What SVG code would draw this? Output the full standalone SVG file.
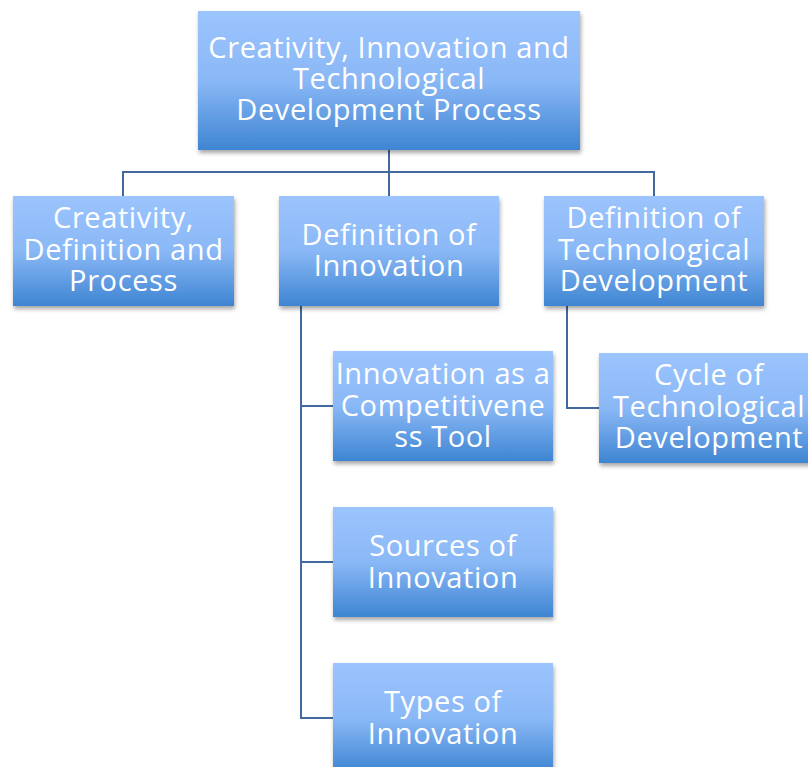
<svg xmlns="http://www.w3.org/2000/svg" width="808" height="767" viewBox="0 0 808 767">
<defs>
<linearGradient id="g" x1="0" y1="0" x2="0" y2="1">
<stop offset="0" stop-color="#9CC4FE"/>
<stop offset="0.5" stop-color="#8AB8F6"/>
<stop offset="1" stop-color="#3E85D2"/>
</linearGradient>
<filter id="sh" x="-10%" y="-10%" width="120%" height="130%">
<feDropShadow dx="1" dy="3" stdDeviation="2" flood-color="#000" flood-opacity="0.35"/>
</filter>
</defs>
<style>
.box{fill:url(#g);filter:url(#sh);}
.t{font-family:"Open Sans","Noto Sans",sans-serif;font-size:29px;letter-spacing:0.6px;fill:#fff;text-anchor:middle;}
.c{fill:none;stroke:#41699E;stroke-width:2;}
</style>
<rect width="808" height="767" fill="#fff"/>
<g id="connectors">
<path class="c" d="M389 150V172M123 196V172H654V196M389 172V196"/>
<path class="c" d="M301 306V718H333M301 406H333M301 562H333"/>
<path class="c" d="M567 306V408H599"/>
</g>
<g id="root">
<rect class="box" x="198" y="11" width="382" height="139"/>
<text class="t"><tspan x="389" y="58">Creativity, Innovation and</tspan><tspan x="389" y="89">Technological</tspan><tspan x="389" y="120">Development Process</tspan></text>
</g>
<g id="creativity">
<rect class="box" x="13" y="196" width="221" height="110"/>
<text class="t"><tspan x="123.5" y="228">Creativity,</tspan><tspan x="123.5" y="260">Definition and</tspan><tspan x="123.5" y="291">Process</tspan></text>
</g>
<g id="innovation">
<rect class="box" x="279" y="196" width="220" height="110"/>
<text class="t"><tspan x="389" y="245">Definition of</tspan><tspan x="389" y="276">Innovation</tspan></text>
</g>
<g id="techdev">
<rect class="box" x="544" y="196" width="220" height="110"/>
<text class="t"><tspan x="654" y="228">Definition of</tspan><tspan x="654" y="260">Technological</tspan><tspan x="654" y="291">Development</tspan></text>
</g>
<g id="cycle">
<rect class="box" x="599" y="353" width="220" height="110"/>
<text class="t"><tspan x="709" y="385">Cycle of</tspan><tspan x="709" y="417">Technological</tspan><tspan x="709" y="448">Development</tspan></text>
</g>
<g id="competitiveness">
<rect class="box" x="333" y="351" width="220" height="110"/>
<text class="t"><tspan x="443" y="384">Innovation as a</tspan><tspan x="443" y="416">Competitivene</tspan><tspan x="443" y="447">ss Tool</tspan></text>
</g>
<g id="sources">
<rect class="box" x="333" y="507" width="220" height="110"/>
<text class="t"><tspan x="443" y="556">Sources of</tspan><tspan x="443" y="588">Innovation</tspan></text>
</g>
<g id="types">
<rect class="box" x="333" y="663" width="220" height="110"/>
<text class="t"><tspan x="443" y="712">Types of</tspan><tspan x="443" y="744">Innovation</tspan></text>
</g>
</svg>
